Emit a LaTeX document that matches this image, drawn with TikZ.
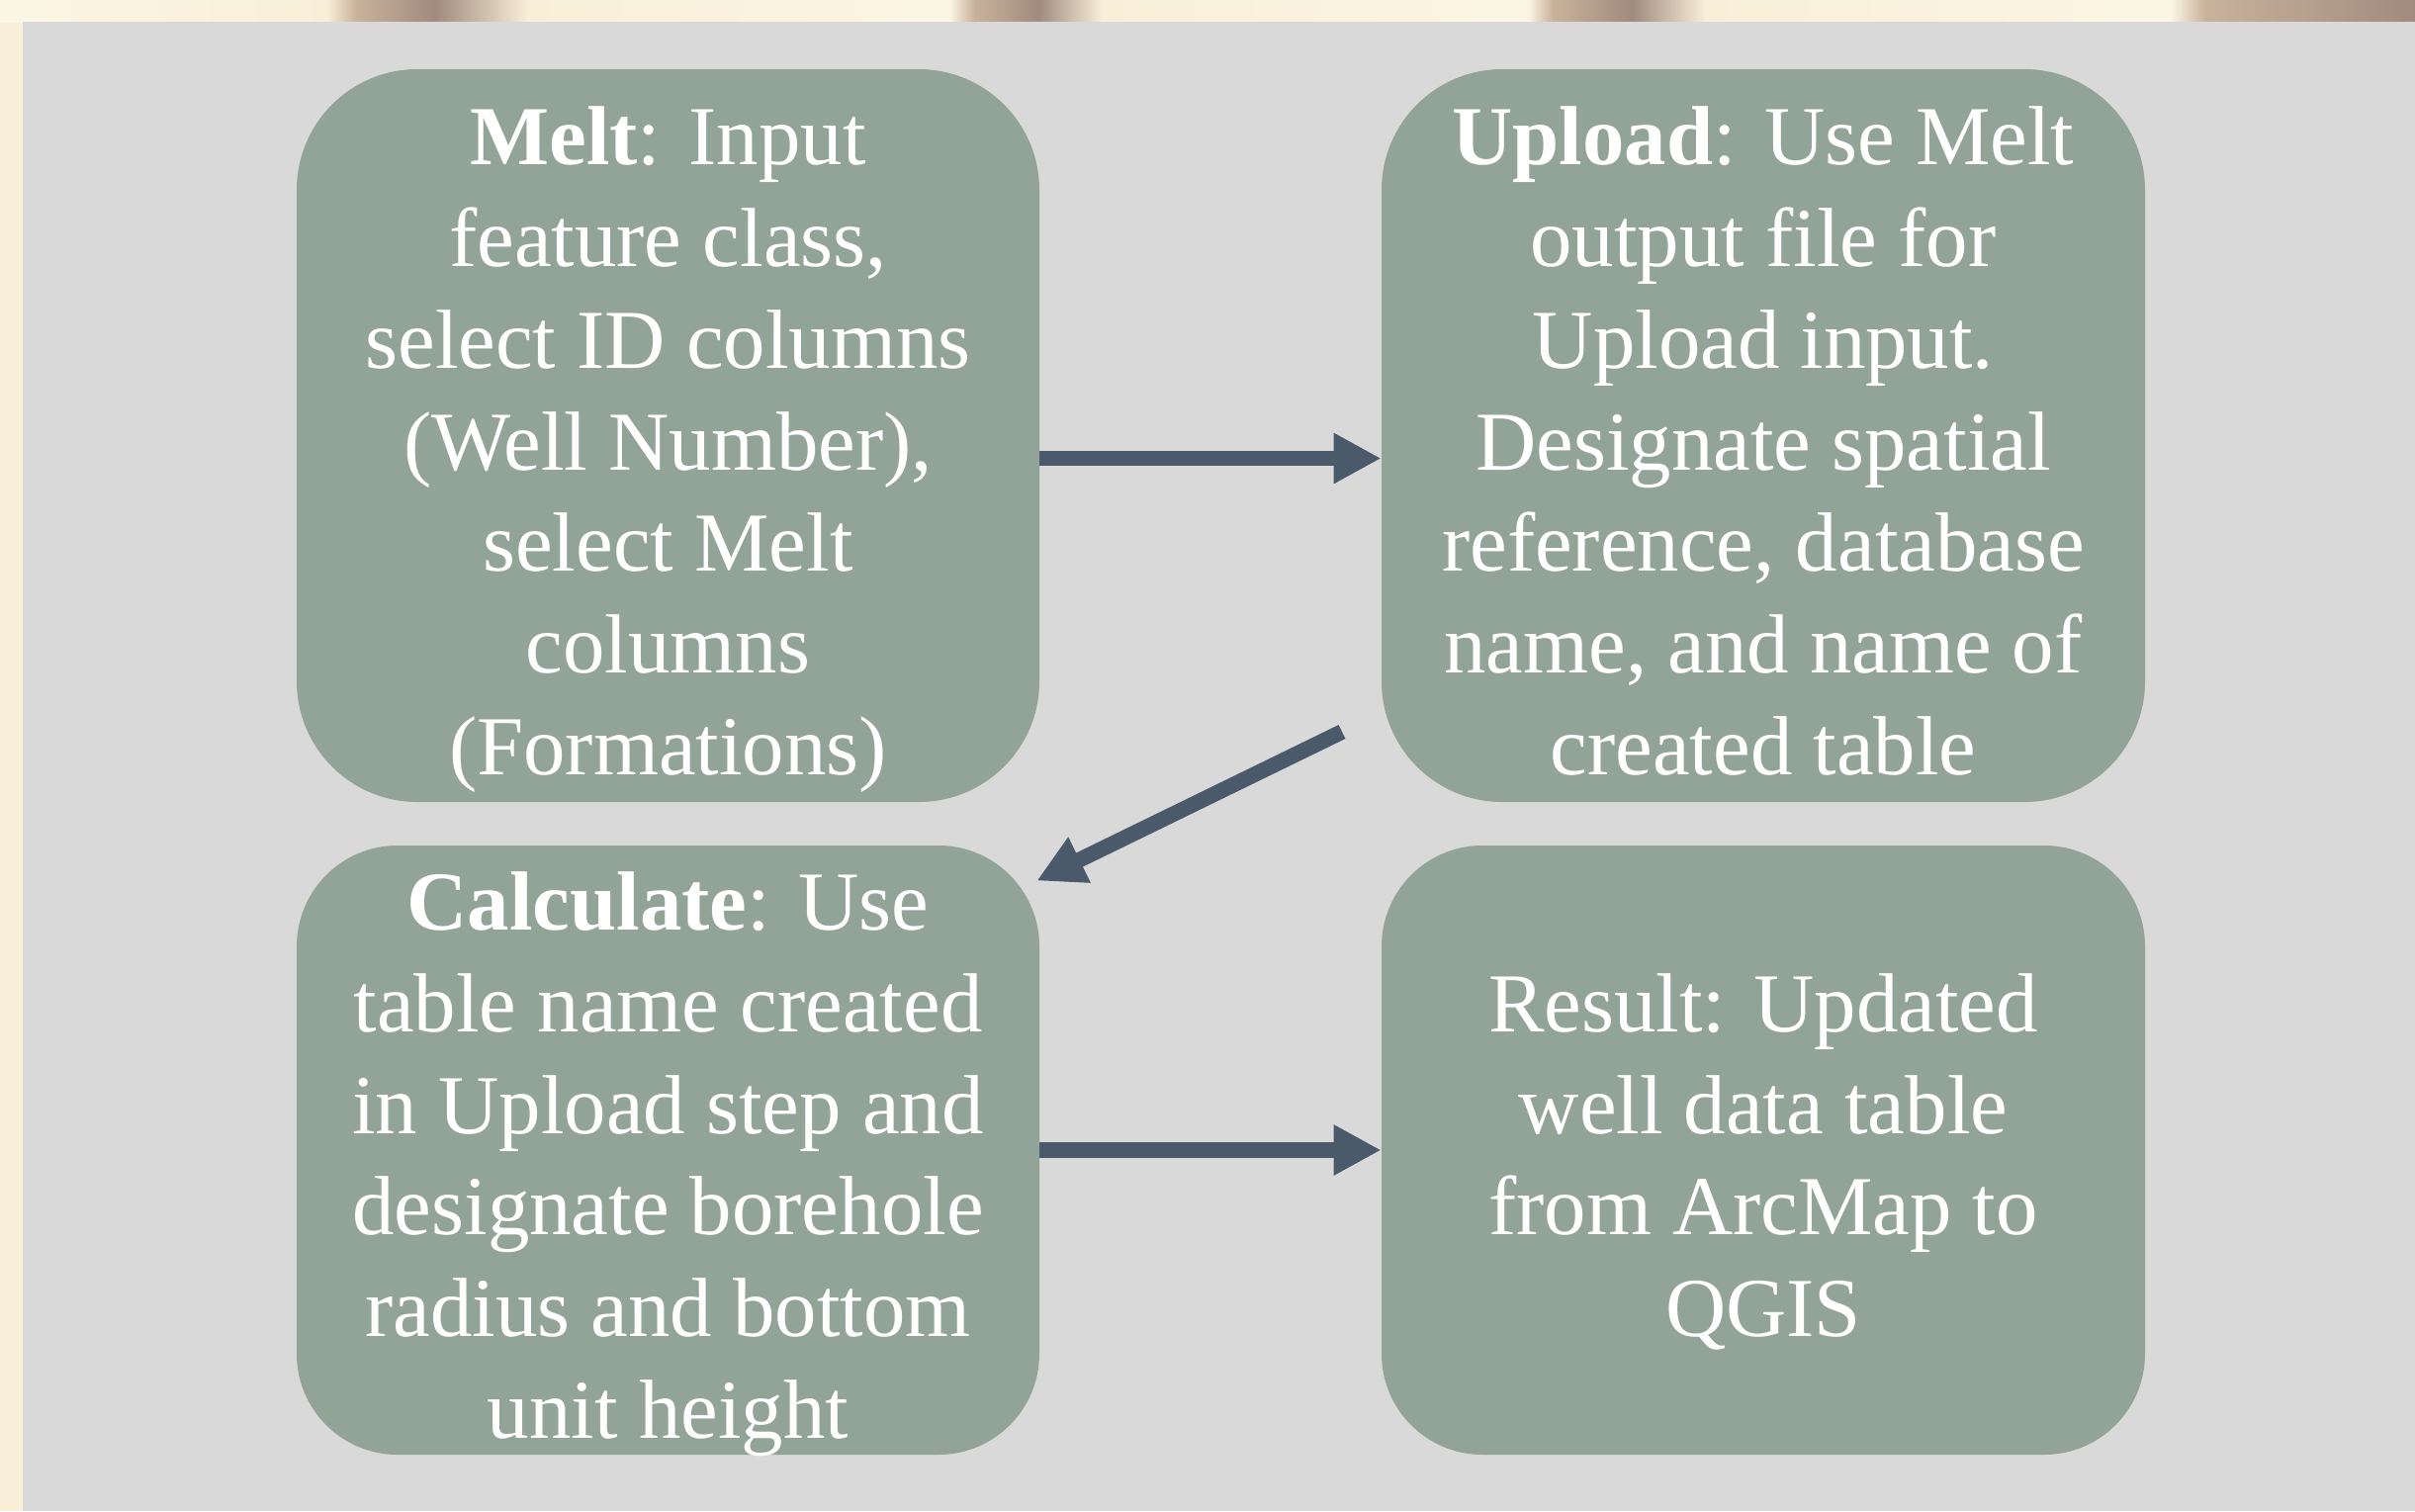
\documentclass[tikz,border=0pt]{standalone}
\usepackage{fontspec}
\setmainfont{Liberation Serif}
\usetikzlibrary{arrows.meta}
\definecolor{bggray}{HTML}{D9D9D9}
\definecolor{boxfill}{HTML}{92A398}
\definecolor{arrowcol}{HTML}{4B5A6B}
\definecolor{cream}{HTML}{F9EFD9}
\definecolor{creamlight}{HTML}{FBF6E4}
\definecolor{wood}{HTML}{A08B7E}
\definecolor{woodlight}{HTML}{C9B29C}
\tikzset{
  stepbox/.style={fill=boxfill, draw=none, inner sep=0pt},
  leftbox/.style={stepbox, minimum width=375.5pt},
  rightbox/.style={stepbox, minimum width=386pt},
  topbox/.style={minimum height=370.5pt, rounded corners=61pt},
  botbox/.style={minimum height=308pt, rounded corners=51pt},
  boxtext/.style={text=white, align=center, inner sep=0pt,
    font=\fontsize{42.4}{51.4}\selectfont},
  flowarrow/.style={draw=arrowcol, line width=7.8pt, -{Triangle[length=24pt,width=24pt]}},
}
\begin{document}
\begin{tikzpicture}[x=0.5pt,y=-0.5pt]
\useasboundingbox (0,0) rectangle (2442,1528);
% textured frame
\fill[cream] (0,0) rectangle (2442,1528);
\shade[left color=creamlight, right color=cream] (0,0) rectangle (330,22);
\shade[left color=cream, right color=woodlight] (330,0) rectangle (360,22);
\shade[left color=woodlight, right color=wood] (360,0) rectangle (440,22);
\shade[left color=wood, right color=cream] (440,0) rectangle (535,22);
\shade[left color=cream, right color=creamlight] (535,0) rectangle (960,22);
\shade[left color=creamlight, right color=woodlight] (960,0) rectangle (985,22);
\shade[left color=woodlight, right color=wood] (985,0) rectangle (1050,22);
\shade[left color=wood, right color=cream] (1050,0) rectangle (1115,22);
\shade[left color=cream, right color=creamlight] (1115,0) rectangle (1545,22);
\shade[left color=creamlight, right color=woodlight] (1545,0) rectangle (1570,22);
\shade[left color=woodlight, right color=wood] (1570,0) rectangle (1650,22);
\shade[left color=wood, right color=cream] (1650,0) rectangle (1725,22);
\shade[left color=cream, right color=creamlight] (1725,0) rectangle (2195,22);
\shade[left color=creamlight, right color=woodlight] (2195,0) rectangle (2230,22);
\shade[left color=woodlight, right color=wood] (2230,0) rectangle (2442,22);
% gray panel
\fill[bggray] (23,22) rectangle (2442,1528);
% boxes
\node[leftbox, topbox] (melt) at (675.5,440.5) {};
\node[rightbox, topbox] (upload) at (1783,440.5) {};
\node[leftbox, botbox] (calc) at (675.5,1163) {};
\node[rightbox, botbox] (result) at (1783,1163) {};
% texts
\node[boxtext] (melttext) at ([yshift=-7pt]melt.center) {\strut\textbf{Melt}: Input\\feature class,\\select ID columns\\(Well Number),\\select Melt\\columns\\(Formations)\strut};
\node[boxtext] (uploadtext) at ([yshift=-7pt]upload.center) {\strut\textbf{Upload}: Use Melt\\output file for\\Upload input.\\Designate spatial\\reference, database\\name, and name of\\created table\strut};
\node[boxtext] (calctext) at ([yshift=-7pt]calc.center) {\strut\textbf{Calculate}: Use\\table name created\\in Upload step and\\designate borehole\\radius and bottom\\unit height\strut};
\node[boxtext] (resulttext) at ([yshift=-7pt]result.center) {\strut Result: Updated\\well data table\\from ArcMap to\\QGIS\strut};
% connectors
\coordinate (diagstart) at (1357,740);
\draw[flowarrow] ([yshift=-11.5pt]melt.east) -- ([yshift=-11.5pt]upload.west);
\draw[flowarrow] (diagstart) -- ([shift={(-1.5pt,-18pt)}]calc.north east);
\draw[flowarrow] (calc.east) -- (result.west);
\end{tikzpicture}
\end{document}
